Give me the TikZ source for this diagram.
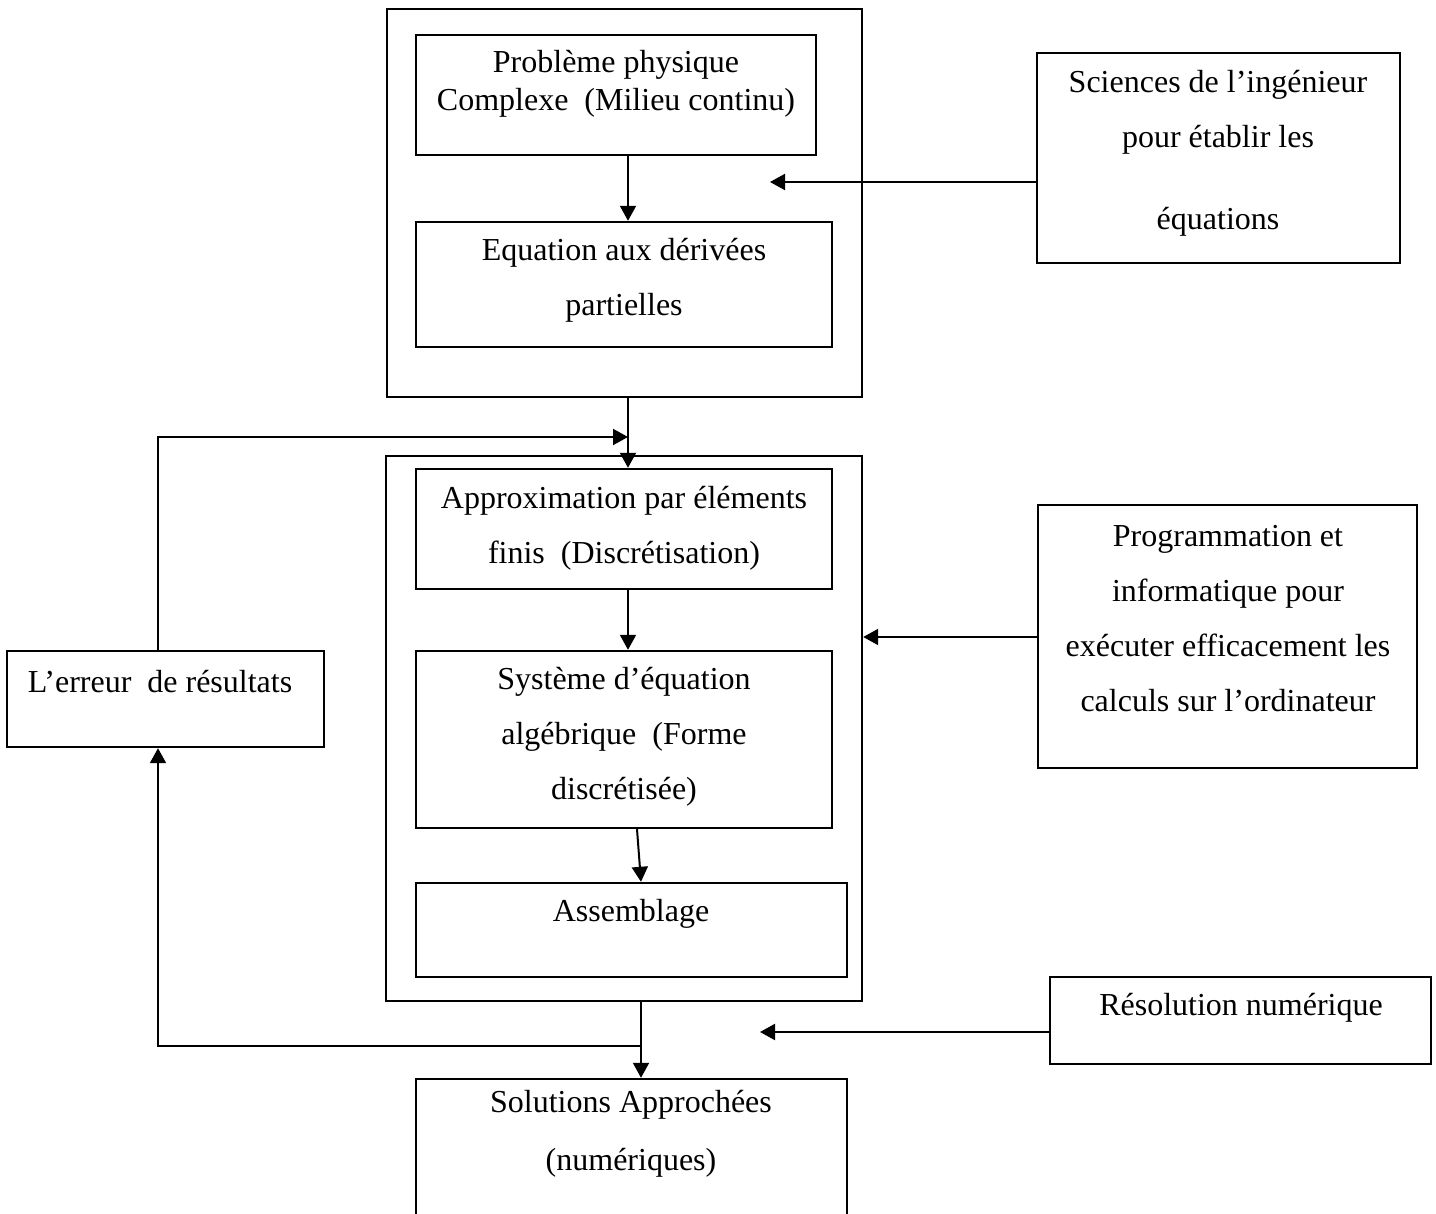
\documentclass[tikz,border=0pt]{standalone}
\usepackage{fontspec}
\setmainfont{Liberation Serif}
\usetikzlibrary{arrows.meta,fit}
\begin{document}
\begin{tikzpicture}[x=0.5pt,y=-0.5pt,
  box/.style={draw=black,line width=1.2pt,inner sep=0pt,rectangle},
  txt/.style={font=\fontsize{16}{27.5}\selectfont,align=center,inner sep=0pt},
  arr/.style={draw=black,line width=1pt,-{Triangle[length=7.5pt,width=8pt]}}]
\useasboundingbox[fill=white] (0,0) rectangle (1436,1214);

% boxes
\node[box,fit={(387,9) (862,397)}] (outer1) {};
\node[box,fit={(416,35) (816,155)}] (prob) {};
\node[box,fit={(416,222) (832,347)}] (eq) {};
\node[box,fit={(1037,53) (1400,263)}] (sci) {};
\node[box,fit={(386,456) (862,1001)}] (outer2) {};
\node[box,fit={(416,469) (832,589)}] (approx) {};
\node[box,fit={(416,651) (832,828)}] (sys) {};
\node[box,fit={(416,883) (847,977)}] (asm) {};
\node[box,fit={(7,651) (324,747)}] (err) {};
\node[box,fit={(1038,505) (1417,768)}] (prog) {};
\node[box,fit={(1050,977) (1431,1064)}] (res) {};
\node[box,fit={(416,1079) (847,1230)}] (sol) {};

% texts
\node[txt,font=\fontsize{16}{19}\selectfont] (tprob) at (616,84) {Problème physique\\Complexe\ \ (Milieu continu)};
\node[txt] (teq) at (624,280) {Equation aux dérivées\\partielles};
\node[txt] (tsci) at (1218,153.5) {Sciences de l’ingénieur\\pour établir les\\[13.5pt]équations};
\node[txt] (tapprox) at (624,528) {Approximation par éléments\\finis\ \ (Discrétisation)};
\node[txt] (tsys) at (624,737) {Système d’équation\\algébrique\ \ (Forme\\discrétisée)};
\node[txt] (tasm) at (631,914) {Assemblage};
\node[txt] (terr) at (160,682) {L’erreur\ \ de résultats};
\node[txt] (tprog) at (1228,618.5) {Programmation et\\informatique pour\\exécuter efficacement les\\calculs sur l’ordinateur};
\node[txt] (tres) at (1241,1008) {Résolution numérique};
\node[txt,font=\fontsize{16}{29}\selectfont] (tsol) at (631,1134) {Solutions Approchées\\(numériques)};

% helper coordinates
\coordinate (cx) at (628,0);
\coordinate (ex) at (158,0);
\coordinate (sysx) at (637,0);
\coordinate (asmx) at (641,0);
\coordinate (sciTip) at (770,182);
\coordinate (fbTip) at (628,437);
\coordinate (progy) at (0,637);
\coordinate (resTip) at (760,1032);
\coordinate (fbj) at (641,1046);
\coordinate (fbc) at (158,1046);

% connectors
\draw[arr] (prob.south -| cx) -- (eq.north -| cx);
\draw[arr] (sci.west |- sciTip) -- (sciTip);
\draw[arr] (outer1.south -| cx) -- (approx.north -| cx);
\draw[arr] (err.north -| ex) |- (fbTip);
\draw[arr] (approx.south -| cx) -- (sys.north -| cx);
\draw[arr] (sys.south -| sysx) -- (asm.north -| asmx);
\draw[arr] (prog.west |- progy) -- (outer2.east |- progy);
\draw[arr] (outer2.south -| asmx) -- (sol.north -| asmx);
\draw[arr] (fbj) -- (fbc) -- (err.south -| ex);
\draw[arr] (res.west |- resTip) -- (resTip);
\end{tikzpicture}
\end{document}
